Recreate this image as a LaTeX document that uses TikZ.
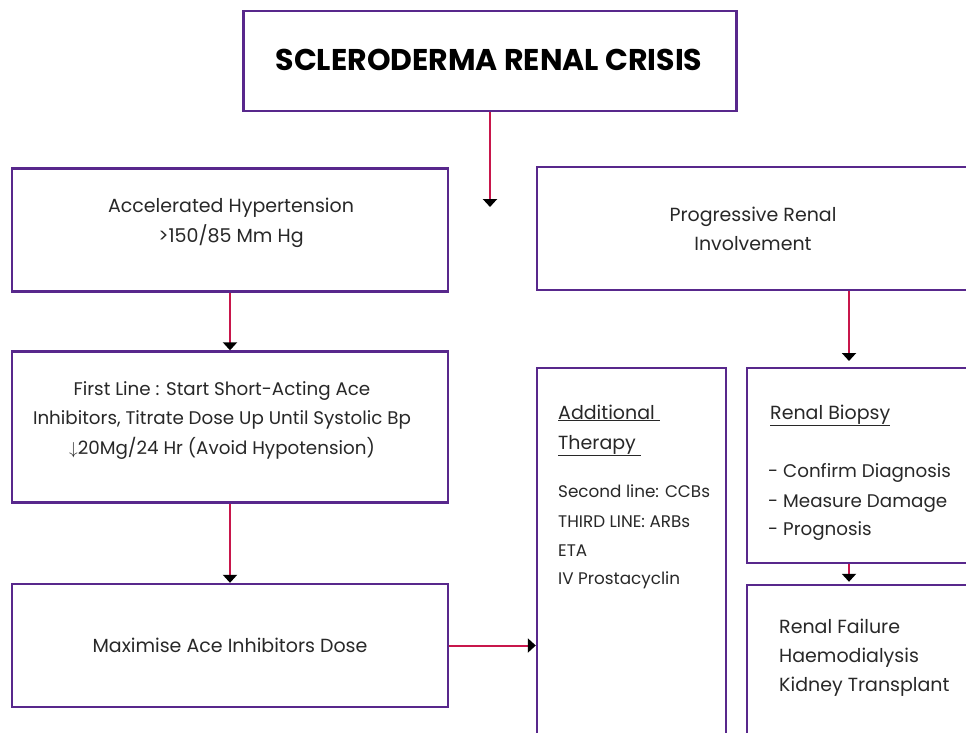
\documentclass[tikz,border=0pt]{standalone}
\usepackage{fontspec}
\setmainfont{Poppins}
\usetikzlibrary{arrows.meta}
\definecolor{boxpurple}{RGB}{88,40,140}
\definecolor{linkred}{RGB}{200,22,75}
\definecolor{txtgray}{RGB}{40,40,40}
\newcommand{\bodyfont}{\fontsize{19}{22}\selectfont}
\newcommand{\firstfont}{\fontsize{18.3}{22}\selectfont}
\newcommand{\biofont}{\fontsize{18.3}{22}\selectfont}
\newcommand{\smallbody}{\fontsize{16.8}{20}\selectfont}
\newcommand{\titlefont}{\fontsize{30}{34}\selectfont\bfseries}
\begin{document}
\begin{tikzpicture}[x=1pt,y=-1pt,
  box/.style={draw=boxpurple, line width=2.4pt, fill=white, inner sep=0pt},
  txt/.style={inner sep=0pt, font=\bodyfont, text=txtgray},
  ftxt/.style={inner sep=0pt, font=\firstfont, text=txtgray},
  btxt/.style={inner sep=0pt, font=\biofont, text=txtgray},
  stxt/.style={inner sep=0pt, font=\smallbody, text=txtgray},
  link/.style={draw=linkred, line width=2pt, -{Triangle[black,width=14pt,length=8pt]}}]
\useasboundingbox (0,0) rectangle (966,732);
\clip (0,0) rectangle (966,732);
\fill[white] (0,0) rectangle (966,732);

% boxes
\node[box, minimum width=493pt, minimum height=100pt] (title) at (490,61) {};
\node[box, minimum width=436pt, minimum height=123pt] (acc) at (230,230) {};
\node[box, minimum width=432pt, minimum height=123pt] (prog) at (753,228.5) {};
\node[box, minimum width=436pt, minimum height=151pt] (first) at (230,427) {};
\node[box, minimum width=436pt, minimum height=123pt] (max) at (230,645.5) {};
\node[box, minimum width=189pt, minimum height=392pt] (add) at (631.5,564) {};
\node[box, minimum width=223pt, minimum height=195pt] (biopsy) at (858.5,465.5) {};
\node[box, minimum width=223pt, minimum height=175pt] (fail) at (858.5,672.5) {};

% texts
\node[inner sep=0pt, font=\titlefont, anchor=base] (titletxt) at (489,70) {SCLERODERMA RENAL CRISIS};

\node[txt, anchor=base] (acc1) at (231,212) {Accelerated Hypertension};
\node[txt, anchor=base] (acc2) at (231,242) {>150/85 Mm Hg};

\node[txt, anchor=base] (prog1) at (753,221) {Progressive Renal};
\node[txt, anchor=base] (prog2) at (753,250) {Involvement};

\node[ftxt, anchor=base] (first1) at (222,395) {First Line : Start Short-Acting Ace};
\node[ftxt, anchor=base] (first2) at (222,424) {Inhibitors, Titrate Dose Up Until Systolic Bp};
\node[ftxt, anchor=base] (first3) at (222,454) {$\downarrow$20Mg/24 Hr (Avoid Hypotension)};

\node[txt, anchor=base] (max1) at (230,652) {Maximise Ace Inhibitors Dose};

\node[txt, anchor=base west] (addh1) at (558,419) {\underline{Additional\ }};
\node[txt, anchor=base west] (addh2) at (558,449) {\underline{Therapy\ }};
\node[stxt, anchor=base west] (add1) at (558,497) {Second line: CCBs};
\node[stxt, anchor=base west] (add2) at (558,527) {THIRD LINE: ARBs};
\node[stxt, anchor=base west] (add3) at (558,556) {ETA};
\node[stxt, anchor=base west] (add4) at (558,584) {IV Prostacyclin};

\node[txt, anchor=base west] (bioh) at (770,419) {\underline{Renal Biopsy}};
\node[btxt, anchor=base west] (bio1) at (768,477) {- Confirm Diagnosis};
\node[btxt, anchor=base west] (bio2) at (768,507) {- Measure Damage};
\node[btxt, anchor=base west] (bio3) at (768,535) {- Prognosis};

\node[txt, anchor=base west] (fail1) at (779,633) {Renal Failure};
\node[txt, anchor=base west] (fail2) at (779,662) {Haemodialysis};
\node[txt, anchor=base west] (fail3) at (779,691) {Kidney Transplant};

% connectors
\coordinate (tend) at (490,207);
\coordinate (pend) at (849,361);
\draw[link] (title.south) -- (tend);
\draw[link] (acc.south) -- (first.north);
\draw[link] (first.south) -- (max.north);
\draw[link] (max.east) -- (max.east -| add.west);
\draw[link] (prog.south -| pend) -- (pend);
\draw[link, shorten >=2pt] (biopsy.south -| pend) -- (fail.north -| pend);
\end{tikzpicture}
\end{document}
